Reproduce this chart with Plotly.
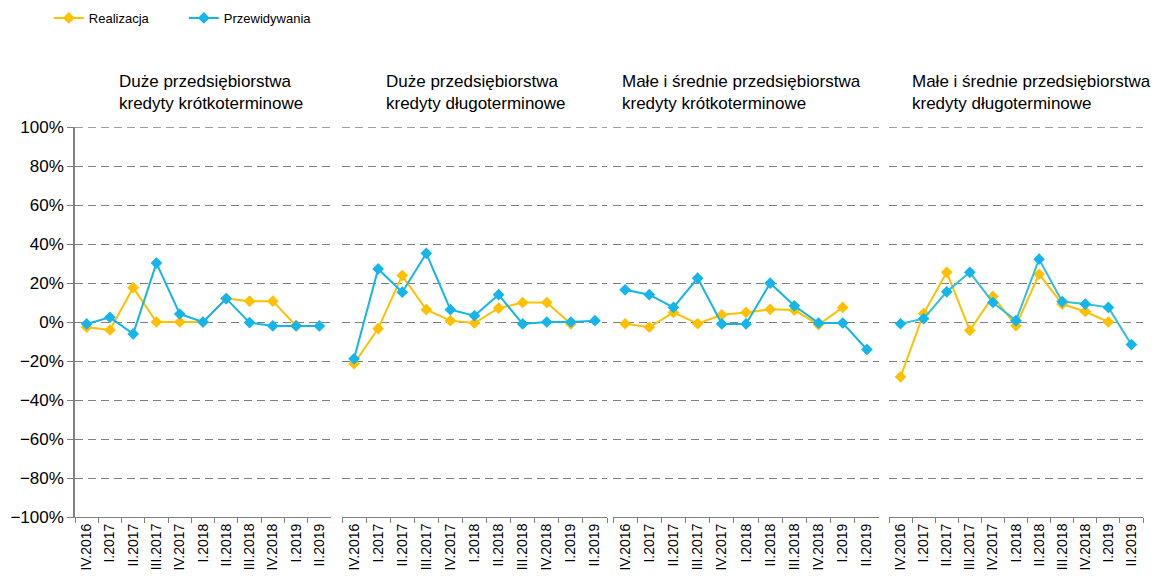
import plotly.graph_objects as go

# Quarter labels shared by every panel
quarters = ["IV.2016", "I.2017", "II.2017", "III.2017", "IV.2017", "I.2018",
            "II.2018", "III.2018", "IV.2018", "I.2019", "II.2019"]

# Panel titles
titles = [
    "Duże przedsiębiorstwa<br>kredyty krótkoterminowe",
    "Duże przedsiębiorstwa<br>kredyty długoterminowe",
    "Małe i średnie przedsiębiorstwa<br>kredyty krótkoterminowe",
    "Małe i średnie przedsiębiorstwa<br>kredyty długoterminowe",
]

# Realised changes (share), last quarter not yet available
real_large_short = [-0.027, -0.041, 0.176, 0.0, 0.0, 0.0, 0.120, 0.107, 0.107, -0.019, None]
real_large_long = [-0.214, -0.034, 0.238, 0.063, 0.007, -0.005, 0.071, 0.100, 0.100, -0.010, None]
real_sme_short = [-0.009, -0.027, 0.049, -0.009, 0.037, 0.049, 0.065, 0.061, -0.014, 0.075, None]
real_sme_long = [-0.281, 0.043, 0.255, -0.043, 0.131, -0.019, 0.245, 0.092, 0.054, 0.0, None]

# Expected changes (share)
exp_large_short = [-0.010, 0.024, -0.061, 0.302, 0.041, 0.0, 0.120, -0.003, -0.020, -0.020, -0.020]
exp_large_long = [-0.189, 0.272, 0.153, 0.352, 0.063, 0.032, 0.140, -0.010, 0.0, 0.0, 0.007]
exp_sme_short = [0.165, 0.140, 0.075, 0.225, -0.010, -0.010, 0.199, 0.083, -0.005, -0.005, -0.141]
exp_sme_long = [-0.009, 0.017, 0.155, 0.255, 0.100, 0.007, 0.322, 0.105, 0.092, 0.075, -0.116]

realised = [real_large_short, real_large_long, real_sme_short, real_sme_long]
expected = [exp_large_short, exp_large_long, exp_sme_short, exp_sme_long]

W, H = 1163, 586
MT, MB = 127, 69
PLOT_H = H - MT - MB
FONT = "Arial, 'Liberation Sans', sans-serif"
YELLOW = "#FFC000"
BLUE = "#13B5EA"
BLUE_LINE = ["#13B5EA", "#13B5EA", "#13B5EA", "#33C0D4"]
GRID = "#808080"
DASH = "8px,5px"

# Horizontal pixel spans of the four panels
spans = [(75, 331), (342, 607), (613, 879), (889, 1143)]
title_left = [117, 384, 620, 910]

fig = go.Figure()

for i in range(4):
    xa = "x" if i == 0 else f"x{i + 1}"
    ya = "y" if i == 0 else f"y{i + 1}"
    fig.add_trace(go.Scatter(
        x=quarters, y=realised[i], xaxis=xa, yaxis=ya,
        name="Realizacja", legendgroup="r", showlegend=(i == 0),
        mode="lines+markers", connectgaps=False,
        line=dict(color=YELLOW, width=2),
        marker=dict(symbol="diamond", size=9, color=YELLOW),
    ))
    fig.add_trace(go.Scatter(
        x=quarters, y=expected[i], xaxis=xa, yaxis=ya,
        name="Przewidywania", legendgroup="p", showlegend=(i == 0),
        mode="lines+markers",
        line=dict(color=BLUE_LINE[i], width=2),
        marker=dict(symbol="diamond", size=9, color=BLUE),
    ))

layout = dict(
    width=W, height=H,
    margin=dict(l=0, r=0, t=MT, b=MB),
    paper_bgcolor="white", plot_bgcolor="white",
    font=dict(family=FONT, color="#000000"),
    showlegend=True,
    legend=dict(
        orientation="h", x=0.042, xanchor="left",
        yref="container", y=0.995, yanchor="top",
        font=dict(size=13, family=FONT),
        bgcolor="rgba(0,0,0,0)", traceorder="normal",
        entrywidth=90, entrywidthmode="pixels",
    ),
)

for i, (a, b) in enumerate(spans):
    xkey = "xaxis" if i == 0 else f"xaxis{i + 1}"
    ykey = "yaxis" if i == 0 else f"yaxis{i + 1}"
    yid = "y" if i == 0 else f"y{i + 1}"
    xid = "x" if i == 0 else f"x{i + 1}"
    layout[xkey] = dict(
        domain=[a / W, b / W], anchor=yid,
        type="category", categoryorder="array", categoryarray=quarters,
        range=[-0.5, 10.5],
        showline=True, linecolor=GRID, linewidth=1,
        ticks="outside", tickson="boundaries", ticklen=5, tickcolor=GRID,
        showgrid=False, zeroline=False,
        tickangle=-90, tickfont=dict(size=14, family=FONT, color="#000000"),
        automargin=False,
    )
    layout[ykey] = dict(
        domain=[0, 1], anchor=xid,
        range=[-1, 1], dtick=0.2, tick0=0, tickformat=".0%",
        showgrid=True, gridcolor=GRID, gridwidth=1.3, griddash=DASH,
        zeroline=False,
        showline=(i == 0), linecolor=GRID, linewidth=1.5,
        ticks="outside" if i == 0 else "", ticklen=6, tickcolor=GRID,
        showticklabels=(i == 0),
        tickfont=dict(size=17, family=FONT, color="#000000"),
        automargin=False,
    )

fig.update_layout(**layout)

# Top (100%) gridline sits on the range edge, so draw it per panel
for i in range(4):
    xd = "x domain" if i == 0 else f"x{i + 1} domain"
    yr = "y" if i == 0 else f"y{i + 1}"
    fig.add_shape(
        type="line", xref=xd, yref=yr, x0=0, x1=1, y0=1, y1=1,
        line=dict(color=GRID, width=1.3, dash=DASH), layer="below",
    )

for i, t in enumerate(titles):
    fig.add_annotation(
        text=t, xref="paper", yref="paper",
        x=title_left[i] / W, xanchor="left",
        y=(H - MB - 70) / PLOT_H, yanchor="top",
        align="left", showarrow=False,
        font=dict(size=17, family=FONT, color="#000000"),
    )

fig.write_html("out.html")
